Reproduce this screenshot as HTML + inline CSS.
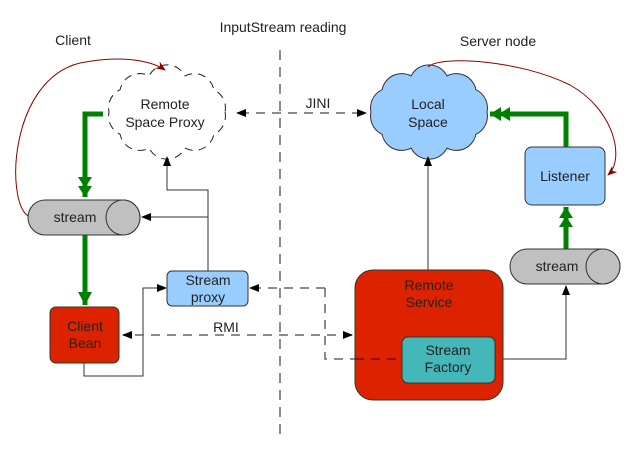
<!DOCTYPE html>
<html><head><meta charset="utf-8"><style>
html,body{margin:0;padding:0;background:#fff;}
svg{display:block;font-family:"Liberation Sans",sans-serif;}
</style></head><body>
<svg width="634" height="458" viewBox="0 0 634 458" xmlns="http://www.w3.org/2000/svg">
<defs>
<marker id="a" markerWidth="10" markerHeight="8" refX="9" refY="4" orient="auto" markerUnits="userSpaceOnUse"><path d="M0,0 L10,4 L0,8 z" fill="#000"/></marker>
<marker id="r" markerWidth="10" markerHeight="8" refX="9" refY="4" orient="auto" markerUnits="userSpaceOnUse"><path d="M0,0 L10,4 L0,8 L3,4 z" fill="#8b0000"/></marker>
<marker id="g" markerWidth="22" markerHeight="14" refX="20" refY="7" orient="auto" markerUnits="userSpaceOnUse"><path d="M0,0 L11,7 L0,14 z M9,0 L20,7 L9,14 z" fill="#008000"/></marker>
<marker id="g1" markerWidth="14" markerHeight="14" refX="13" refY="7" orient="auto" markerUnits="userSpaceOnUse"><path d="M0,0 L13,7 L0,14 z" fill="#008000"/></marker>
</defs>
<g font-size="14" fill="#222" text-anchor="middle">
<text x="73" y="45">Client</text>
<text x="283" y="32">InputStream reading</text>
<text x="498" y="46">Server node</text>
</g>
<line x1="280" y1="50" x2="280" y2="440" stroke="#666" stroke-width="1.5" stroke-dasharray="10,7"/>
<!-- clouds -->
<path d="M487,112 A20,20 0 0 1 475.9,134.3 A20,20 0 0 1 446.9,148.1 A20,20 0 0 1 411.1,148.1 A20,20 0 0 1 382.1,134.3 A20,20 0 0 1 371,112 A20,20 0 0 1 382.1,89.7 A20,20 0 0 1 411.1,75.9 A20,20 0 0 1 446.9,75.9 A20,20 0 0 1 475.9,89.7 A20,20 0 0 1 487,112 Z" fill="#99ccff" stroke="#333" stroke-width="1"/>
<path d="M225,112 A20,20 0 0 1 213.9,134.3 A20,20 0 0 1 184.9,148.1 A20,20 0 0 1 149.1,148.1 A20,20 0 0 1 120.1,134.3 A20,20 0 0 1 109,112 A20,20 0 0 1 120.1,89.7 A20,20 0 0 1 149.1,75.9 A20,20 0 0 1 184.9,75.9 A20,20 0 0 1 213.9,89.7 A20,20 0 0 1 225,112 Z" fill="#fff" stroke="#222" stroke-width="1" stroke-dasharray="8,6"/>
<g font-size="14" fill="#222" text-anchor="middle">
<text x="428" y="109">Local</text><text x="428" y="127">Space</text>
<text x="165" y="109">Remote</text><text x="165" y="127">Space Proxy</text>
</g>
<!-- JINI -->
<line x1="240" y1="113" x2="366" y2="113" stroke="#666" stroke-width="1.5" stroke-dasharray="9,7" marker-end="url(#a)"/>
<path d="M236,113 L246,109 L246,117 z" fill="#000"/>
<text x="318" y="108" font-size="14" fill="#222" text-anchor="middle">JINI</text>
<!-- red curves -->
<path d="M28,216 C5,200 10,80 80,63 C120,55 150,60 165,70" fill="none" stroke="#8b0000" stroke-width="1" marker-end="url(#r)"/>
<path d="M428,67 C440,55 520,60 570,85 C615,110 625,160 608,175" fill="none" stroke="#8b0000" stroke-width="1" marker-end="url(#r)"/>
<!-- green -->
<polyline points="103,114 85,114 85,197" fill="none" stroke="#008000" stroke-width="5" marker-end="url(#g)"/>
<line x1="85" y1="235" x2="85" y2="305" stroke="#008000" stroke-width="5" marker-end="url(#g1)"/>
<polyline points="566,147 566,114 490,114" fill="none" stroke="#008000" stroke-width="5" marker-end="url(#g)"/>
<line x1="566" y1="249" x2="566" y2="207" stroke="#008000" stroke-width="5" marker-end="url(#g)"/>
<!-- left stream -->
<path d="M45,200 L123,200 A17,17.5 0 0 1 123,235 L45,235 A17,17.5 0 0 1 45,200 Z" fill="#c0c0c0" stroke="#333"/>
<ellipse cx="123" cy="217.5" rx="17" ry="17.5" fill="#c0c0c0" stroke="#333"/>
<text x="75" y="222" font-size="14" fill="#222" text-anchor="middle">stream</text>
<!-- right stream -->
<path d="M527,249 L603,249 A17,17.5 0 0 1 603,284 L527,284 A17,17.5 0 0 1 527,249 Z" fill="#c0c0c0" stroke="#333"/>
<ellipse cx="603" cy="266.5" rx="17" ry="17.5" fill="#c0c0c0" stroke="#333"/>
<text x="557" y="271" font-size="14" fill="#222" text-anchor="middle">stream</text>
<!-- black connectors -->
<polyline points="208,271 208,190 167,190 167,157" fill="none" stroke="#333" marker-end="url(#a)"/>
<polyline points="208,217 142,217" fill="none" stroke="#333" marker-end="url(#a)"/>
<polyline points="84,363 84,376 143,376 143,288 166,288" fill="none" stroke="#333" marker-end="url(#a)"/>
<line x1="428" y1="270" x2="428" y2="157" stroke="#333" marker-end="url(#a)"/>
<polyline points="495,359 566,359 566,286" fill="none" stroke="#333" marker-end="url(#a)"/>
<!-- dashed -->
<line x1="352" y1="335" x2="123" y2="335" stroke="#666" stroke-width="1.5" stroke-dasharray="9,7" marker-end="url(#a)"/>
<path d="M343,331 L353,335 L343,339 z" fill="#000"/>
<text x="226" y="332" font-size="14" fill="#222" text-anchor="middle">RMI</text>
<polyline points="325,288 250,288" fill="none" stroke="#666" stroke-width="1.5" stroke-dasharray="9,7" marker-end="url(#a)"/>
<polyline points="325,288 325,359 355,359" fill="none" stroke="#666" stroke-width="1.5" stroke-dasharray="9,7"/>
<!-- boxes -->
<rect x="50" y="307" width="69" height="56" rx="6" fill="#dd2200" stroke="#333"/>
<text x="85" y="331" font-size="14" fill="#222" text-anchor="middle">Client</text>
<text x="85" y="348" font-size="14" fill="#222" text-anchor="middle">Bean</text>
<rect x="167" y="271" width="81" height="35" rx="5" fill="#99ccff" stroke="#333"/>
<text x="208" y="285" font-size="14" fill="#222" text-anchor="middle">Stream</text>
<text x="208" y="302" font-size="14" fill="#222" text-anchor="middle">proxy</text>
<rect x="355" y="270" width="148" height="130" rx="18" fill="#dd2200" stroke="#333"/>
<text x="429" y="290" font-size="14" fill="#222" text-anchor="middle">Remote</text>
<text x="429" y="307" font-size="14" fill="#222" text-anchor="middle">Service</text>
<line x1="355" y1="359" x2="402" y2="359" stroke="#661100" stroke-width="1.5" stroke-dasharray="9,7"/>
<rect x="402" y="337" width="93" height="46" rx="6" fill="#44b8b8" stroke="#333"/>
<text x="448" y="355" font-size="14" fill="#222" text-anchor="middle">Stream</text>
<text x="448" y="372" font-size="14" fill="#222" text-anchor="middle">Factory</text>
<rect x="525" y="147" width="80" height="58" rx="7" fill="#99ccff" stroke="#333"/>
<text x="565" y="181" font-size="14" fill="#222" text-anchor="middle">Listener</text>
</svg>
</body></html>
